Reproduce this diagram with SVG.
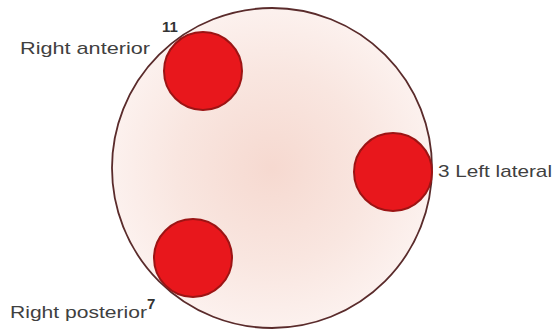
<svg xmlns="http://www.w3.org/2000/svg" width="556" height="329" viewBox="0 0 556 329">
<defs>
<radialGradient id="bg" cx="0.5" cy="0.5" r="0.5">
<stop offset="0" stop-color="#f6d9d0"/>
<stop offset="0.6" stop-color="#f9e6e0"/>
<stop offset="1" stop-color="#fcf1ee"/>
</radialGradient>
<style>
.lbl{font-family:"Liberation Sans",Arial,sans-serif;fill:#404040;font-size:17px}
.num{font-family:"Liberation Sans",Arial,sans-serif;fill:#333333;font-size:15px;font-weight:bold}
.spot{fill:#e8171c;stroke:#9c1414;stroke-width:2}
</style>
</defs>
<rect width="556" height="329" fill="#ffffff"/>
<g id="ring">
<circle cx="272" cy="168" r="160" fill="url(#bg)" stroke="#5a2b2b" stroke-width="1.8"/>
</g>
<g id="spot-11">
<circle class="spot" cx="203" cy="71" r="39"/>
</g>
<g id="spot-3">
<circle class="spot" cx="393" cy="172" r="39"/>
</g>
<g id="spot-7">
<circle class="spot" cx="193" cy="258" r="39"/>
</g>
<g id="labels">
<text class="lbl" x="20" y="54" textLength="130" lengthAdjust="spacingAndGlyphs">Right anterior</text>
<text class="num" x="162" y="32">11</text>
<text class="lbl" x="438" y="177" textLength="114" lengthAdjust="spacingAndGlyphs">3 Left lateral</text>
<text class="lbl" x="10" y="318" textLength="137" lengthAdjust="spacingAndGlyphs">Right posterior</text>
<text class="num" x="147" y="309">7</text>
</g>
</svg>
